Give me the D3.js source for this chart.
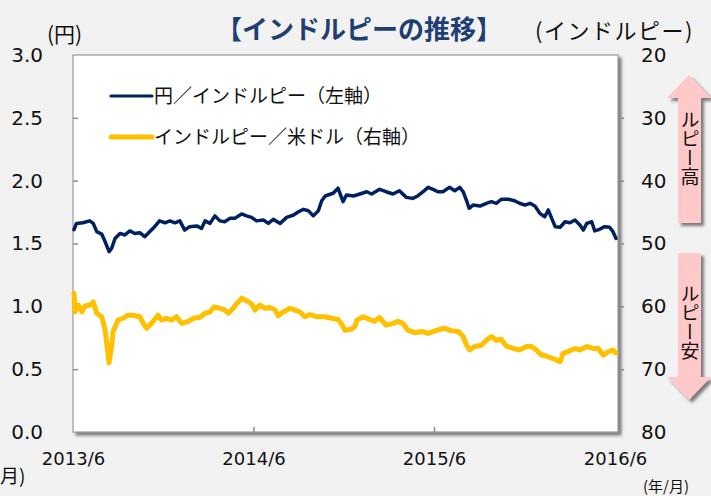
<!DOCTYPE html>
<html><head><meta charset="utf-8">
<script src="https://cdn.jsdelivr.net/npm/d3@7"></script>
<style>
html,body{margin:0;padding:0;background:#f2f2f2;}
svg{display:block;}
text{font-family:"DejaVu Sans",Verdana,sans-serif;fill:#111;}
.jp{font-family:"Noto Sans CJK JP","Noto Sans",sans-serif;}
</style></head>
<body>
<script>
const title = "【インドルピーの推移】";
const leftUnit = "(円)";
const rightUnit = "(インドルピー)";
const seriesNames = ["円／インドルピー（左軸）", "インドルピー／米ドル（右軸）"];
const xTickLabels = ["2013/6", "2014/6", "2015/6", "2016/6"];
const xTickDates = ["2013-06-01", "2014-06-01", "2015-06-01", "2016-06-01"];
const leftTicks = [0, 0.5, 1.0, 1.5, 2.0, 2.5, 3.0];
const rightTicks = [20, 30, 40, 50, 60, 70, 80];
const arrowLabels = ["ルピー高", "ルピー安"];
const xUnitCut = "月)";
const xUnit = "(年/月)";

const jpyDates = ["2013-06-03","2013-06-08","2013-06-21","2013-07-05","2013-07-12","2013-07-19","2013-07-29","2013-08-05","2013-08-13","2013-08-18","2013-08-25","2013-09-04","2013-09-14","2013-09-24","2013-10-04","2013-10-14","2013-10-24","2013-11-03","2013-11-13","2013-11-23","2013-12-04","2013-12-14","2013-12-24","2014-01-03","2014-01-13","2014-01-23","2014-02-06","2014-02-16","2014-02-23","2014-03-05","2014-03-15","2014-03-25","2014-04-04","2014-04-14","2014-04-24","2014-05-08","2014-05-18","2014-05-28","2014-06-07","2014-06-21","2014-07-01","2014-07-11","2014-07-25","2014-08-07","2014-08-21","2014-08-31","2014-09-10","2014-09-20","2014-09-30","2014-10-10","2014-10-17","2014-10-24","2014-11-09","2014-11-19","2014-11-29","2014-12-06","2014-12-20","2015-01-02","2015-01-16","2015-01-26","2015-02-11","2015-02-24","2015-03-10","2015-03-23","2015-04-06","2015-04-19","2015-04-29","2015-05-10","2015-05-20","2015-05-30","2015-06-09","2015-06-19","2015-07-02","2015-07-13","2015-07-23","2015-07-30","2015-08-06","2015-08-11","2015-08-19","2015-09-02","2015-09-15","2015-09-25","2015-10-05","2015-10-15","2015-10-29","2015-11-11","2015-11-21","2015-12-02","2015-12-12","2015-12-22","2016-01-01","2016-01-11","2016-01-18","2016-01-25","2016-02-01","2016-02-11","2016-02-21","2016-03-02","2016-03-12","2016-03-22","2016-03-29","2016-04-05","2016-04-15","2016-04-21","2016-05-01","2016-05-11","2016-05-21","2016-05-28","2016-06-03"];
const jpyValues = [1.61,1.66,1.665,1.68,1.66,1.594,1.575,1.514,1.435,1.46,1.54,1.58,1.568,1.60,1.58,1.586,1.554,1.594,1.634,1.68,1.665,1.68,1.665,1.68,1.607,1.634,1.64,1.62,1.68,1.66,1.72,1.68,1.673,1.70,1.70,1.735,1.72,1.708,1.68,1.687,1.66,1.692,1.66,1.708,1.727,1.753,1.772,1.761,1.72,1.76,1.84,1.878,1.90,1.94,1.833,1.886,1.878,1.894,1.912,1.894,1.931,1.912,1.894,1.92,1.867,1.859,1.878,1.912,1.947,1.931,1.912,1.912,1.947,1.92,1.947,1.912,1.84,1.78,1.806,1.798,1.82,1.833,1.82,1.852,1.852,1.84,1.82,1.806,1.82,1.798,1.74,1.713,1.767,1.70,1.634,1.629,1.673,1.665,1.687,1.647,1.607,1.66,1.673,1.60,1.613,1.634,1.629,1.594,1.54];

const usdDates = ["2013-06-03","2013-06-05","2013-06-12","2013-06-19","2013-06-25","2013-07-05","2013-07-12","2013-07-19","2013-07-29","2013-08-05","2013-08-09","2013-08-13","2013-08-18","2013-08-21","2013-08-31","2013-09-10","2013-09-20","2013-09-30","2013-10-14","2013-10-21","2013-10-28","2013-11-07","2013-11-20","2013-11-27","2013-12-07","2013-12-17","2013-12-27","2014-01-07","2014-01-20","2014-01-30","2014-02-13","2014-02-23","2014-03-05","2014-03-13","2014-03-25","2014-04-04","2014-04-11","2014-04-21","2014-04-28","2014-05-08","2014-05-18","2014-05-28","2014-06-04","2014-06-14","2014-06-24","2014-07-04","2014-07-14","2014-07-21","2014-07-31","2014-08-14","2014-08-24","2014-09-03","2014-09-13","2014-09-23","2014-10-06","2014-10-24","2014-11-06","2014-11-19","2014-11-26","2014-12-03","2014-12-16","2014-12-23","2014-12-27","2015-01-09","2015-01-22","2015-02-01","2015-02-11","2015-02-24","2015-03-10","2015-03-20","2015-03-30","2015-04-09","2015-04-23","2015-05-07","2015-05-20","2015-06-03","2015-06-13","2015-06-23","2015-07-06","2015-07-20","2015-07-30","2015-08-06","2015-08-12","2015-08-22","2015-09-05","2015-09-15","2015-09-25","2015-10-05","2015-10-15","2015-10-25","2015-11-08","2015-11-21","2015-12-05","2015-12-15","2015-12-25","2016-01-04","2016-01-14","2016-01-27","2016-02-11","2016-02-17","2016-02-27","2016-03-12","2016-03-22","2016-04-05","2016-04-18","2016-04-28","2016-05-08","2016-05-19","2016-05-28","2016-06-03"];
const usdValues = [57.9,60.9,59.8,60.9,59.95,59.8,59.3,61.1,61.65,63.8,66.4,69.0,66.4,64.0,62.2,61.9,61.4,61.4,61.65,62.7,63.5,62.7,61.4,62.2,61.9,62.2,61.65,62.7,62.4,61.9,61.75,61.1,60.9,60.1,60.3,60.6,61.1,60.3,59.6,58.7,59.1,59.6,60.6,59.8,60.3,60.2,60.5,61.5,60.9,60.3,60.6,60.9,61.65,61.3,61.65,61.65,61.9,62.1,62.8,63.8,63.65,63.2,62.2,61.65,62.1,62.4,61.75,63.0,62.7,62.4,62.7,63.8,64.2,64.0,64.3,63.9,63.65,63.5,63.9,64.0,64.8,66.2,66.95,66.4,66.2,65.4,64.8,65.4,65.25,66.3,66.7,66.95,66.4,66.4,66.95,67.75,67.9,68.3,68.8,67.5,67.2,66.7,66.95,66.4,66.7,66.7,67.75,67.2,66.95,67.4];

const W = 711, H = 496;
const plot = {left: 73, right: 618, top: 55, bottom: 432};
const parse = d3.timeParse("%Y-%m-%d");

const svg = d3.select("body").append("svg").attr("width", W).attr("height", H);
svg.append("rect").attr("width", W).attr("height", H).attr("fill", "#f2f2f2");

const defs = svg.append("defs");
const f = defs.append("filter").attr("id", "sh").attr("x", "-10%").attr("y", "-10%").attr("width", "130%").attr("height", "130%");
f.append("feDropShadow").attr("dx", 3).attr("dy", 3).attr("stdDeviation", 1.6).attr("flood-color", "#555").attr("flood-opacity", 0.75);

const x = d3.scaleTime().domain([parse("2013-06-01"), parse("2016-06-01")]).range([73, 615]);
const yL = d3.scaleLinear().domain([0, 3]).range([plot.bottom, plot.top]);
const yR = d3.scaleLinear().domain([20, 80]).range([plot.top, plot.bottom]);

// plot frame
svg.append("rect").attr("x", plot.left).attr("y", plot.top)
  .attr("width", plot.right - plot.left).attr("height", plot.bottom - plot.top)
  .attr("fill", "#fff").attr("stroke", "#9a9a9a").attr("stroke-width", 1.2).attr("filter", "url(#sh)");

// left axis
const gL = svg.append("g").attr("transform", `translate(${plot.left},0)`)
  .call(d3.axisLeft(yL).tickValues(leftTicks).tickFormat(d3.format(".1f")).tickSize(-5).tickPadding(30));
gL.select(".domain").remove();
gL.selectAll(".tick line").attr("stroke", "#8c8c8c").attr("stroke-width", 1.5)
  .attr("display", d => (d === 0 || d === 3) ? "none" : null);
gL.selectAll(".tick text").attr("font-size", 20).attr("font-family", "DejaVu Sans").attr("fill", "#111");

// right axis
const gR = svg.append("g").attr("transform", `translate(${plot.right},0)`)
  .call(d3.axisRight(yR).tickValues(rightTicks).tickSize(6).tickPadding(17));
gR.select(".domain").remove();
gR.selectAll(".tick line").attr("stroke", "#8c8c8c").attr("stroke-width", 1.5)
  .attr("display", d => (d === 20 || d === 80) ? "none" : null);
gR.selectAll(".tick text").attr("font-size", 20).attr("font-family", "DejaVu Sans").attr("fill", "#111");

// bottom axis
const gB = svg.append("g").attr("transform", `translate(0,${plot.bottom})`)
  .call(d3.axisBottom(x).tickValues(xTickDates.map(parse)).tickFormat((d, i) => xTickLabels[i]).tickSize(-5).tickPadding(33));
gB.select(".domain").remove();
gB.selectAll(".tick line").attr("stroke", "#8c8c8c").attr("stroke-width", 1.5)
  .attr("display", (d, i) => (i === 0 || i === xTickLabels.length - 1) ? "none" : null);
gB.selectAll(".tick text").attr("font-size", 18).attr("font-family", "DejaVu Sans").attr("fill", "#111")
  .attr("dy", "0");

// lines
const jpy = jpyDates.map((d, i) => ({date: parse(d), v: jpyValues[i]}));
const usd = usdDates.map((d, i) => ({date: parse(d), v: usdValues[i]}));
svg.append("path").datum(usd).attr("fill", "none").attr("stroke", "#ffc000").attr("stroke-width", 5)
  .attr("stroke-linejoin", "round").attr("stroke-linecap", "round")
  .attr("d", d3.line().x(d => x(d.date)).y(d => yR(d.v)));
svg.append("path").datum(jpy).attr("fill", "none").attr("stroke", "#002060").attr("stroke-width", 3.5)
  .attr("stroke-linejoin", "round").attr("stroke-linecap", "round")
  .attr("d", d3.line().x(d => x(d.date)).y(d => yL(d.v)));

// legend
const legend = [{name: seriesNames[0], color: "#002060", w: 3.2, y: 96}, {name: seriesNames[1], color: "#ffc000", w: 5, y: 137}];
legend.forEach(l => {
  svg.append("line").attr("x1", 111).attr("x2", 152).attr("y1", l.y).attr("y2", l.y)
    .attr("stroke", l.color).attr("stroke-width", l.w).attr("stroke-linecap", "round");
  svg.append("text").attr("class", "jp").attr("x", 154).attr("y", l.y).attr("dy", "0.35em")
    .attr("font-size", 19).text(l.name);
});

// title & units
svg.append("text").attr("class", "jp").attr("x", 359).attr("y", 30).attr("dy", "0.35em")
  .attr("text-anchor", "middle").attr("font-size", 26).attr("font-weight", "bold")
  .style("fill", "#1f3f73").text(title);
svg.append("text").attr("class", "jp").attr("x", 47).attr("y", 35).attr("dy", "0.35em")
  .attr("font-size", 21).text(leftUnit);
svg.append("text").attr("class", "jp").attr("x", 535).attr("y", 31).attr("dy", "0.35em")
  .attr("font-size", 22).attr("letter-spacing", 1.5).text(rightUnit);
svg.append("text").attr("class", "jp").attr("x", 0).attr("y", 476).attr("dy", "0.35em")
  .attr("font-size", 19).text(xUnitCut);
svg.append("text").attr("class", "jp").attr("x", 689).attr("y", 487).attr("dy", "0.35em")
  .attr("text-anchor", "end").attr("font-size", 15).text(xUnit);

// arrows
const up = [[689,75],[711,98],[701,98],[701,223],[678,223],[678,98],[667,98]];
const down = [[678,253],[701,253],[701,377],[711,377],[689,400],[667,377],[678,377]];
[up, down].forEach(p => {
  svg.append("path").attr("d", "M" + p.join("L") + "Z").attr("fill", "#ffc9c9").attr("filter", "url(#sh)");
});
[[arrowLabels[0], 113], [arrowLabels[1], 287]].forEach(([t, y0]) => {
  svg.append("text").attr("class", "jp").attr("x", 690).attr("y", y0 - 3)
    .attr("font-size", 19).style("writing-mode", "vertical-rl").style("text-orientation", "upright")
    .text(t);
});
</script>
</body></html>
